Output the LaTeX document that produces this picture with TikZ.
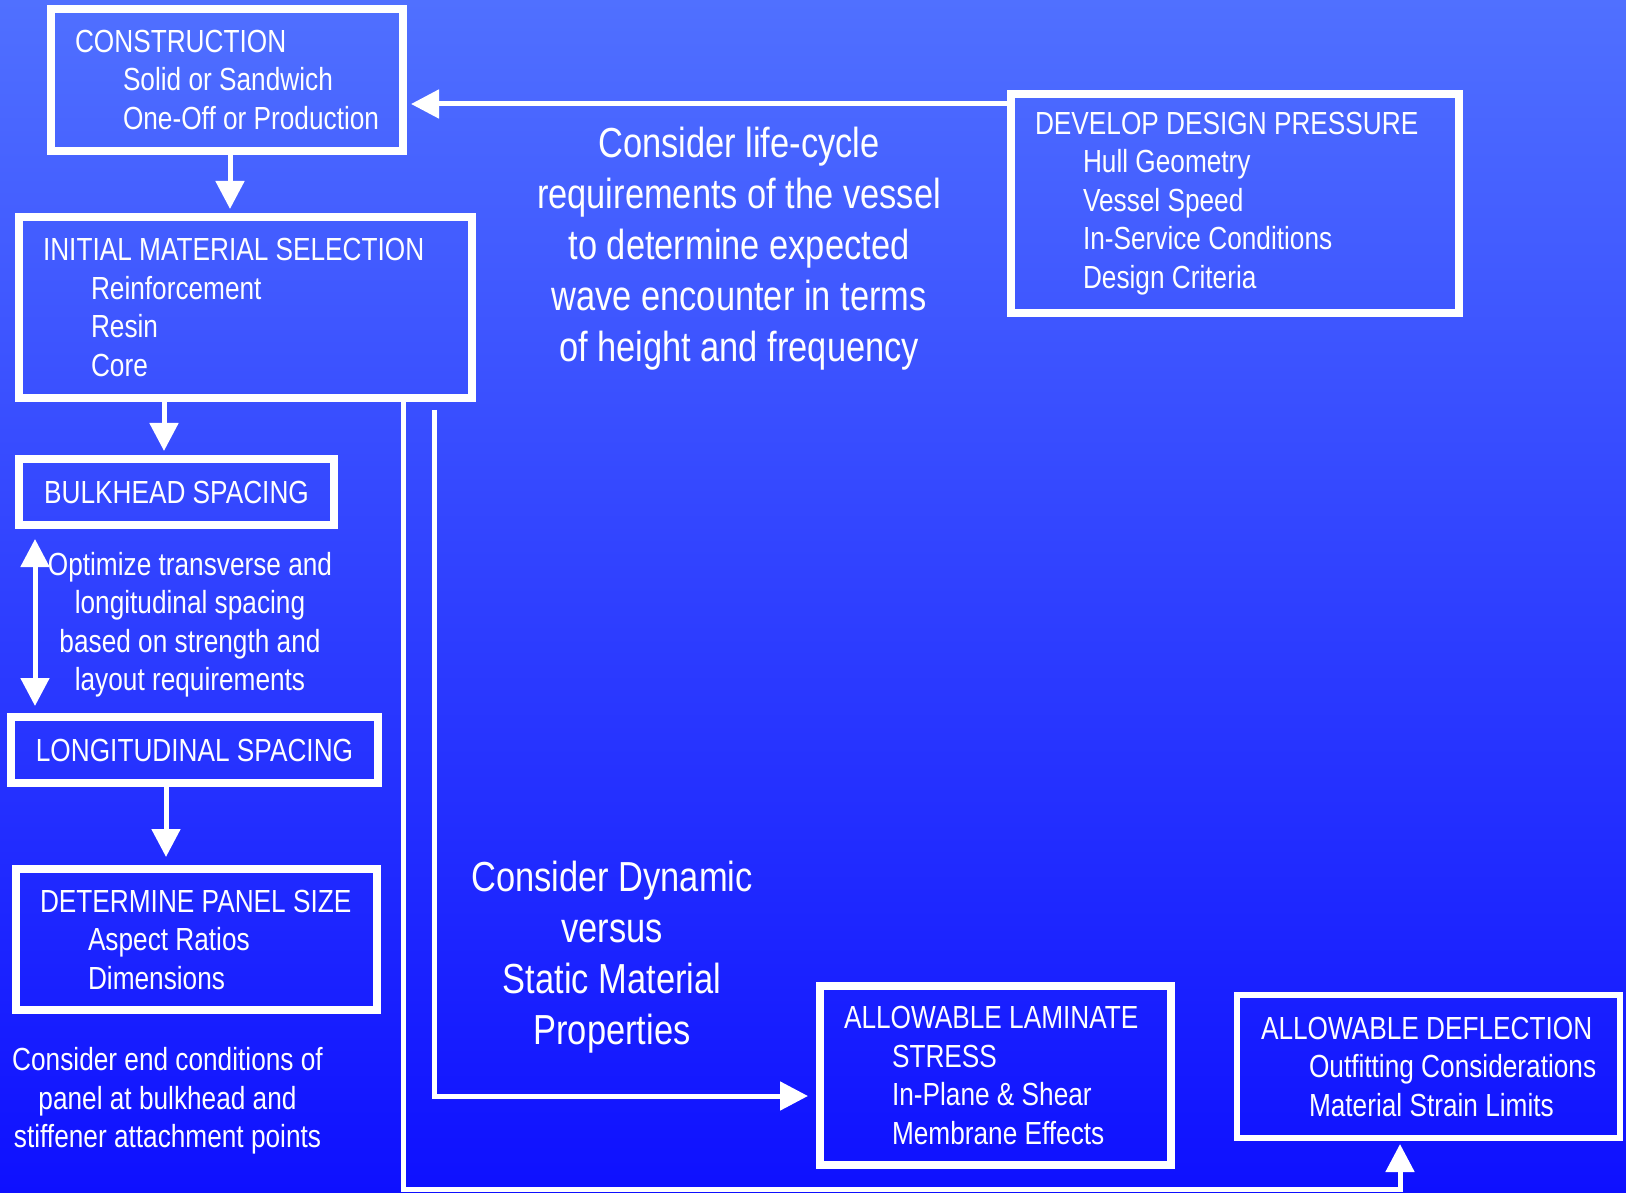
\documentclass[tikz,border=0pt]{standalone}
\usepackage{fontspec}
\setmainfont[FakeStretch=0.82]{Liberation Sans}
\usetikzlibrary{arrows.meta, positioning, calc}
\definecolor{skytop}{RGB}{80,112,255}
\definecolor{skybot}{RGB}{14,16,255}
\newcommand{\boxtxt}{\fontsize{9.1}{10.95}\selectfont}
\newcommand{\bigtxt}{\fontsize{11.95}{14.5}\selectfont}
\newcommand{\ind}[1]{\hspace*{0.48cm}\mbox{#1}}
\tikzset{
    % Flow boxes
    stepbox/.style={rectangle, draw=white, line width=0.08cm, text=white,
                inner xsep=0.24cm, inner ysep=0pt, align=flush left, font=\boxtxt},
    titlebox/.style={rectangle, draw=white, line width=0.08cm, text=white,
                inner sep=0pt, align=center, font=\boxtxt},
    % Free text
    note/.style={text=white, align=center, font=\boxtxt, inner sep=0pt},
    bignote/.style={text=white, align=center, font=\bigtxt, inner sep=0pt},
    % Arrows
    flow/.style={-{Triangle[length=0.28cm, width=0.28cm]}, draw=white, line width=0.05cm},
    twoway/.style={{Triangle[length=0.28cm, width=0.28cm]}-{Triangle[length=0.28cm, width=0.28cm]},
                draw=white, line width=0.05cm},
}

\begin{document}
\begin{tikzpicture}
\useasboundingbox (0,0) rectangle (16.26,-11.93);
\shade[top color=skytop, bottom color=skybot] (0,0) rectangle (16.26,-11.93);

\node[stepbox, text width=3.04cm, minimum height=1.42cm] (construct) at (2.27,-0.80)
    {CONSTRUCTION\\\ind{Solid or Sandwich}\\\ind{One-Off or Production}};
\node[stepbox, text width=4.00cm, minimum height=2.19cm] (develop) at (12.35,-2.035)
    {\mbox{DEVELOP DESIGN PRESSURE}\\\ind{Hull Geometry}\\\ind{Vessel Speed}\\\ind{In-Service Conditions}\\\ind{Design Criteria}};
\node[stepbox, text width=4.05cm, minimum height=1.81cm] (initial) at (2.455,-3.075)
    {\mbox{INITIAL MATERIAL SELECTION}\\\ind{Reinforcement}\\\ind{Resin}\\\ind{Core}};
\node[titlebox, minimum width=3.15cm, minimum height=0.66cm] (bulkhead) at (1.765,-4.92) {BULKHEAD SPACING};
\node[titlebox, minimum width=3.67cm, minimum height=0.66cm] (longit) at (1.945,-7.50) {LONGITUDINAL SPACING};
\node[stepbox, text width=3.13cm, minimum height=1.41cm] (panel) at (1.965,-9.395)
    {\mbox{DETERMINE PANEL SIZE}\\\ind{Aspect Ratios}\\\ind{Dimensions}};
\node[stepbox, text width=3.03cm, minimum height=1.79cm] (laminate) at (9.955,-10.755)
    {\mbox{ALLOWABLE LAMINATE}\\\ind{STRESS}\\\ind{In-Plane \& Shear}\\\ind{Membrane Effects}};
\node[stepbox, line width=0.06cm, text width=3.35cm, minimum height=1.43cm] (deflect) at (14.285,-10.665)
    {\mbox{ALLOWABLE DEFLECTION}\\\ind{Outfitting Considerations}\\\ind{Material Strain Limits}};

\node[bignote] (lifecycle) at (7.39,-2.49) {Consider life-cycle\\requirements of the vessel\\to determine expected\\wave encounter in terms\\of height and frequency};
\node[bignote] (dynamic) at (6.12,-9.57) {Consider Dynamic\\versus\\Static Material\\Properties};
\node[note] (optimize) at (1.90,-6.245) {Optimize transverse and\\longitudinal spacing\\based on strength and\\layout requirements};
\node[note] (endcond) at (1.675,-11.01) {Consider end conditions of\\panel at bulkhead and\\stiffener attachment points};

% connector end points
\coordinate (dp) at ([yshift=-0.14cm]develop.north west);
\coordinate (cs) at ([xshift=0.03cm]construct.south);
\coordinate (bk) at ([xshift=1.49cm]initial.south west);
\coordinate (sp) at ([xshift=0.20cm]bulkhead.south west);
\coordinate (lp) at ([xshift=1.59cm]longit.south west);
\coordinate (lm) at ([xshift=-0.42cm, yshift=-0.08cm]initial.south east);
\coordinate (rt) at ([xshift=-0.73cm]initial.south east);
\coordinate (floor) at (0,-11.89);

\draw[flow, shorten >=0.04cm] (dp) -- (dp -| construct.east);
\draw[flow, shorten >=0.04cm] (cs) -- (cs |- initial.north);
\draw[flow, shorten >=0.04cm] (bk) -- (bk |- bulkhead.north);
\draw[twoway, shorten <=0.10cm, shorten >=0.07cm] (sp) -- (sp |- longit.north);
\draw[flow, shorten >=0.08cm] (lp) -- (lp |- panel.north);
\draw[flow, shorten >=0.08cm] (lm) |- ([yshift=-0.205cm]laminate.west);
\draw[flow, shorten >=0.03cm] (rt) -- (rt |- floor) -| ([xshift=-0.285cm]deflect.south);
\end{tikzpicture}
\end{document}
